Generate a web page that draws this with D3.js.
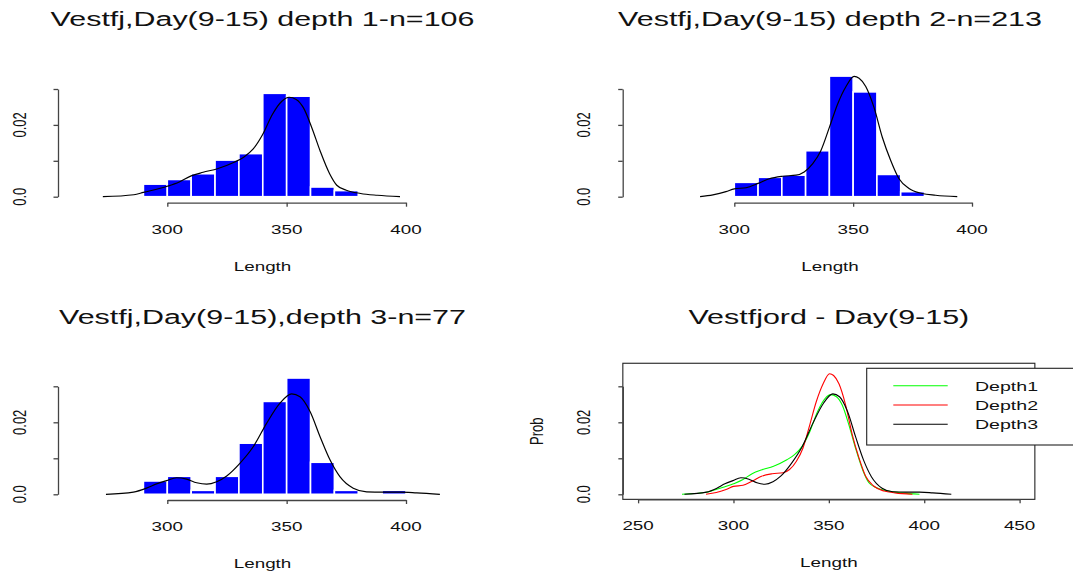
<!DOCTYPE html>
<html>
<head>
<meta charset="utf-8">
<script src="https://cdn.jsdelivr.net/npm/d3@7"></script>
<style>
  body { margin: 0; background: #fff; }
  text { font-family: "Liberation Sans", Arial, sans-serif; fill: #111; }
</style>
</head>
<body>
<div id="chart"></div>
<script>
// the original R picture was stretched sideways, so text gets the same stretch
const SX = 1.45;

// histogram densities (bins of 10 mm)
const binWidth = 10;
const binStart1 = 290;
const hist1 = [0.0035, 0.0048, 0.0064, 0.0102, 0.0120, 0.0288, 0.0280, 0.0027, 0.0017];
const binStart2 = 300;
const hist2 = [0.0040, 0.0054, 0.0060, 0.0128, 0.0336, 0.0292, 0.0062, 0.0014];
const binStart3 = 290;
const hist3 = [0.0037, 0.0050, 0.0011, 0.0050, 0.0142, 0.0258, 0.0323, 0.0089, 0.0011, 0, 0.0011];

// kernel density curves
const len1 = [273, 286, 290, 300, 305, 310, 315, 321, 328, 332, 336, 340, 344, 348, 351, 354, 357, 360.5, 364, 368, 371, 375, 381, 388, 397.5];
const dens1 = [0, 0.00055, 0.0012, 0.0029, 0.0041, 0.0058, 0.0068, 0.0078, 0.0096, 0.011, 0.0133, 0.0174, 0.0229, 0.0266, 0.0277, 0.0271, 0.0248, 0.0193, 0.0128, 0.0064, 0.0032, 0.0018, 0.0009, 0.0004, 0];
const len2 = [285.6, 291, 296.5, 300, 305, 310, 314.7, 320.3, 326, 329.4, 333, 336.4, 340, 343.4, 347, 350.4, 352.5, 355.3, 358.8, 362.3, 365.8, 369.3, 373.5, 379, 384.7, 393.8];
const dens2 = [0, 0.0005, 0.0014, 0.0022, 0.0025, 0.0037, 0.005, 0.0057, 0.006, 0.0069, 0.0092, 0.0128, 0.0193, 0.0257, 0.0307, 0.0335, 0.033, 0.0307, 0.0248, 0.0165, 0.0101, 0.005, 0.0023, 0.0009, 0.0004, 0];
const len3 = [274.3, 285.8, 291.3, 295.5, 299.7, 303.9, 308.1, 312.3, 316.5, 320.7, 324.9, 330.4, 336, 341.6, 347.2, 352.1, 355.6, 359.8, 364, 368.2, 372.3, 377.9, 383.5, 390.5, 397.5, 404.5, 414.2];
const dens3 = [0, 0.0006, 0.0017, 0.0029, 0.0038, 0.0046, 0.0042, 0.0032, 0.0028, 0.0035, 0.0051, 0.0086, 0.0132, 0.0197, 0.0253, 0.0279, 0.0271, 0.023, 0.016, 0.0095, 0.0049, 0.0017, 0.0007, 0.0006, 0.0006, 0.0004, 0];

const titles = [
  "Vestfj,Day(9-15) depth 1-n=106",
  "Vestfj,Day(9-15) depth 2-n=213",
  "Vestfj,Day(9-15),depth 3-n=77",
  "Vestfjord - Day(9-15)"
];
const xTicksHist = [300, 350, 400];
const xTicksAll = [250, 300, 350, 400, 450];
const yTicks = [0, 0.01, 0.02, 0.03];
const yTickLabels = ["0.0", "", "0.02", ""];
const depthNames = ["Depth1", "Depth2", "Depth3"];
const depthColors = ["#00ff00", "#ff0000", "#000000"];

const width = 1073, height = 574;
const svg = d3.select("#chart").append("svg")
  .attr("width", width)
  .attr("height", height);
svg.append("rect").attr("width", width).attr("height", height).attr("fill", "#fff");

// text helper, stretched like the reference
function label(g, x, y, str, size, rot) {
  return g.append("text")
    .attr("text-anchor", "middle")
    .attr("font-size", size)
    .attr("transform", `translate(${x},${y}) scale(${SX},1)` + (rot ? " rotate(-90)" : ""))
    .text(str);
}

function axes(g, x, y, xTicks, axisLeftX, axisBottomY) {
  const ax = g.append("g")
    .attr("transform", `translate(0,${axisBottomY})`)
    .call(d3.axisBottom(x).tickValues(xTicks).tickSize(4).tickSizeOuter(0).tickFormat(""));
  ax.selectAll("path,line").attr("stroke", "#444").attr("stroke-width", 1.3);
  xTicks.forEach(t => label(g, x(t), axisBottomY + 31, t, 13));

  const ay = g.append("g")
    .attr("transform", `translate(${axisLeftX},0)`)
    .call(d3.axisLeft(y).tickValues(yTicks).tickSize(4.5).tickSizeOuter(0).tickFormat(""));
  ay.selectAll("path,line").attr("stroke", "#444").attr("stroke-width", 1.3);
  yTicks.forEach((t, i) => {
    if (yTickLabels[i]) label(g, axisLeftX - 32.5, y(t), yTickLabels[i], 13, true);
  });
}

const densLine = (x, y) => d3.line()
  .x(d => x(d[0]))
  .y(d => y(d[1]))
  .curve(d3.curveMonotoneX);

function histPanel(cfg, start, values, len, dens, title) {
  const g = svg.append("g");
  const x = d3.scaleLinear().domain([300, 400]).range(cfg.xr);
  const y = d3.scaleLinear().domain([0, 0.03]).range(cfg.yr);

  const bins = values.map((v, i) => ({ x0: start + i * binWidth, x1: start + (i + 1) * binWidth, v }))
    .filter(b => b.v > 0);
  g.append("g").selectAll("rect")
    .data(bins)
    .join("rect")
      .attr("x", d => x(d.x0))
      .attr("width", d => x(d.x1) - x(d.x0))
      .attr("y", d => y(d.v))
      .attr("height", d => y(0) - y(d.v))
      .attr("fill", "#0000ff")
      .attr("stroke", "#fff")
      .attr("stroke-width", 1.6);

  g.append("path")
    .attr("d", densLine(x, y)(len.map((l, i) => [l, dens[i]])))
    .attr("fill", "none")
    .attr("stroke", "#000")
    .attr("stroke-width", 1.2);

  axes(g, x, y, xTicksHist, cfg.left, cfg.xAxisY);
  label(g, cfg.cx, cfg.titleY, title, 21);
  label(g, cfg.cx, cfg.xAxisY + 68, "Length", 13);
}

histPanel({ xr: [167.3, 406], yr: [196.7, 89], left: 58, xAxisY: 202.7, cx: 262.5, titleY: 26 },
  binStart1, hist1, len1, dens1, titles[0]);
histPanel({ xr: [734.3, 972], yr: [196.7, 89], left: 622.7, xAxisY: 202.7, cx: 830, titleY: 26 },
  binStart2, hist2, len2, dens2, titles[1]);
histPanel({ xr: [167.3, 406], yr: [494.3, 386.3], left: 58, xAxisY: 500, cx: 262.5, titleY: 323.5 },
  binStart3, hist3, len3, dens3, titles[2]);

// ---- panel 4: the three density curves together
{
  const g = svg.append("g");
  const x = d3.scaleLinear().domain([250, 450]).range([638.1, 1019.6]);
  const y = d3.scaleLinear().domain([0, 0.03]).range([494.3, 386.3]);
  const boxL = x(242), boxR = x(458), boxT = y(0.0364), boxB = y(-0.0014);

  const curves = [[len1, dens1], [len2, dens2], [len3, dens3]];
  curves.forEach(([l, d], k) => {
    g.append("path")
      .attr("d", densLine(x, y)(l.map((v, i) => [v, d[i]])))
      .attr("fill", "none")
      .attr("stroke", depthColors[k])
      .attr("stroke-width", 1.1);
  });

  g.append("rect")
    .attr("x", boxL).attr("y", boxT)
    .attr("width", boxR - boxL).attr("height", boxB - boxT)
    .attr("fill", "none").attr("stroke", "#222").attr("stroke-width", 1.1);

  axes(g, x, y, xTicksAll, boxL, boxB);
  label(g, (boxL + boxR) / 2, 323.5, titles[3], 21);
  label(g, (boxL + boxR) / 2, boxB + 68, "Length", 13);
  label(g, 543.3, (boxT + boxB) / 2, "Prob", 13, true);

  // legend (runs off the right edge, as in the reference)
  const lg = g.append("g");
  lg.append("rect")
    .attr("x", 866.7).attr("y", 368.3)
    .attr("width", 230).attr("height", 76.7)
    .attr("fill", "#fff").attr("stroke", "#222").attr("stroke-width", 1.1);
  depthNames.forEach((name, i) => {
    const ly = 385.7 + i * 19.3;
    lg.append("line")
      .attr("x1", 893.3).attr("x2", 947.7)
      .attr("y1", ly).attr("y2", ly)
      .attr("stroke", depthColors[i]).attr("stroke-width", 1.1);
    lg.append("text")
      .attr("font-size", 13.5)
      .attr("dy", "0.36em")
      .attr("transform", `translate(975,${ly}) scale(${SX},1)`)
      .text(name);
  });
}
</script>
</body>
</html>
